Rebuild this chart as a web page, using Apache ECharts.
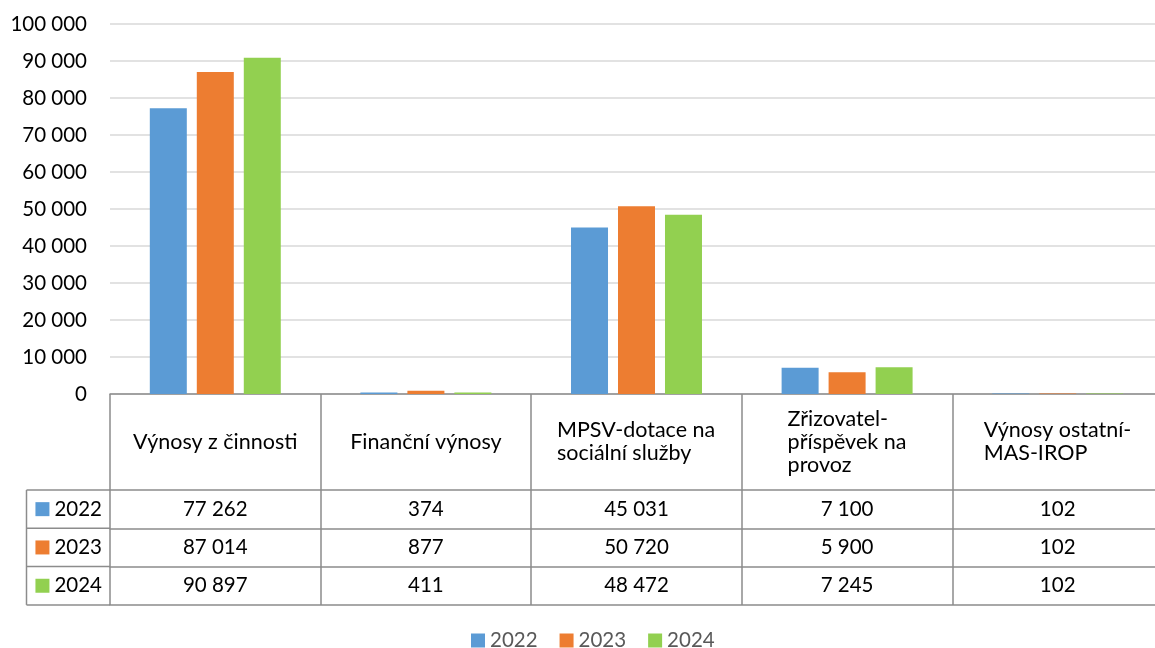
<!DOCTYPE html>
<html>
<head>
<meta charset="utf-8">
<script src="https://cdn.jsdelivr.net/npm/echarts@6/dist/echarts.min.js"></script>
<style>html,body{margin:0;padding:0;background:#fff}#c{width:1155px;height:648px}</style>
</head>
<body>
<div id="c"></div>
<script>
const categories = ['Výnosy z činnosti', 'Finanční výnosy', 'MPSV-dotace na\nsociální služby', 'Zřizovatel-\npříspěvek na\nprovoz', 'Výnosy ostatní-\nMAS-IROP'];
const seriesNames = ['2022', '2023', '2024'];
const values2022 = [77262, 374, 45031, 7100, 102];
const values2023 = [87014, 877, 50720, 5900, 102];
const values2024 = [90897, 411, 48472, 7245, 102];
const yMin = 0, yMax = 100000, yInterval = 10000;

const seriesValues = [values2022, values2023, values2024];
const colors = ['#5B9BD5', '#ED7D31', '#92D050'];
const FONT = 'Lato';
const FS = 20.5;     // numbers
const FST = 21.5;    // header text
const lineColor = '#8C8C8C';
const lineW = 1.5;

const fmt = n => String(n).replace(/\B(?=(\d{3})+(?!\d))/g, ' ');

// layout
const gridTop = 24, axisY = 394, headerH = 96, rowH = 38.3, stubLeft = 26.5, gridLeft = 110, gridWidth = 1053;
const gridBottom = 648 - axisY;

// measure text for left-aligned multi-line header blocks
const cv = document.createElement('canvas').getContext('2d');
cv.font = FST + 'px ' + FONT;
const rich = {};
categories.forEach((c, i) => {
  const lines = c.split('\n');
  const w = Math.ceil(Math.max(...lines.map(l => cv.measureText(l).width)));
  rich['L' + i] = { width: w, align: 'left', fontFamily: FONT, fontSize: FST, color: '#000', lineHeight: 23 };
});

const xAxes = [];
xAxes.push({
  type: 'category', data: categories, position: 'bottom', offset: 0,
  axisLine: { show: true, lineStyle: { color: lineColor, width: lineW } },
  axisTick: { show: true, length: headerH, lineStyle: { color: lineColor, width: lineW } },
  axisLabel: {
    interval: 0, margin: headerH / 2, verticalAlign: 'middle', lineHeight: 23,
    fontFamily: FONT, fontSize: FST, color: '#000',
    formatter: (v, i) => {
      const lines = v.split('\n');
      if (lines.length === 1) return v;
      return lines.map(l => '{L' + i + '|' + l + '}').join('\n');
    },
    rich: rich
  }
});
seriesValues.forEach((vals, k) => {
  xAxes.push({
    type: 'category', data: categories, position: 'bottom', offset: headerH + k * rowH,
    axisLine: { show: true, lineStyle: { color: lineColor, width: lineW } },
    axisTick: { show: true, length: rowH, lineStyle: { color: lineColor, width: lineW } },
    axisLabel: {
      interval: 0, margin: rowH / 2, verticalAlign: 'middle',
      fontFamily: FONT, fontSize: FS, color: '#000',
      formatter: (v, i) => fmt(vals[i])
    },
    name: '{sq|}{t|' + seriesNames[k] + '}',
    nameLocation: 'start', nameGap: 8,
    nameTextStyle: {
      padding: [rowH, 0, 0, 0], verticalAlign: 'middle',
      rich: {
        sq: { width: 14, height: 14, backgroundColor: colors[k] },
        t: { fontFamily: FONT, fontSize: FS, color: '#000', padding: [0, 0, 0, 5] }
      }
    }
  });
});
xAxes.push({
  type: 'category', data: categories, position: 'bottom', offset: headerH + 3 * rowH,
  axisLine: { show: true, lineStyle: { color: lineColor, width: lineW } },
  axisTick: { show: false }, axisLabel: { show: false }
});

// stub (row-label column) border lines
const stubGraphics = [];
for (let r = 0; r <= 3; r++) {
  const y = axisY + headerH + r * rowH;
  stubGraphics.push({ type: 'line', shape: { x1: stubLeft, y1: y, x2: gridLeft, y2: y }, style: { stroke: lineColor, lineWidth: lineW } });
}
stubGraphics.push({ type: 'line', shape: { x1: stubLeft, y1: axisY + headerH, x2: stubLeft, y2: axisY + headerH + 3 * rowH }, style: { stroke: lineColor, lineWidth: lineW } });

const option = {
  animation: false,
  textStyle: { fontFamily: FONT },
  grid: { left: gridLeft, width: gridWidth, top: gridTop, bottom: gridBottom, containLabel: false, outerBoundsMode: 'none' },
  legend: {
    data: seriesNames, top: 625, left: 466, icon: 'rect',
    itemWidth: 14, itemHeight: 14, itemGap: 22,
    textStyle: { fontFamily: FONT, fontSize: FS, color: '#595959' }
  },
  xAxis: xAxes,
  yAxis: {
    type: 'value', min: yMin, max: yMax, interval: yInterval,
    axisLine: { show: false }, axisTick: { show: false },
    splitLine: { lineStyle: { color: '#D9D9D9', width: 1.5 } },
    axisLabel: { margin: 23, fontFamily: FONT, fontSize: FS, color: '#000', formatter: v => fmt(v) }
  },
  graphic: stubGraphics,
  series: seriesNames.map((n, k) => ({
    name: n, type: 'bar', xAxisIndex: 0, data: seriesValues[k],
    barWidth: 37, barGap: '27%', itemStyle: { color: colors[k] }
  }))
};

echarts.init(document.getElementById('c')).setOption(option);
</script>
</body>
</html>
